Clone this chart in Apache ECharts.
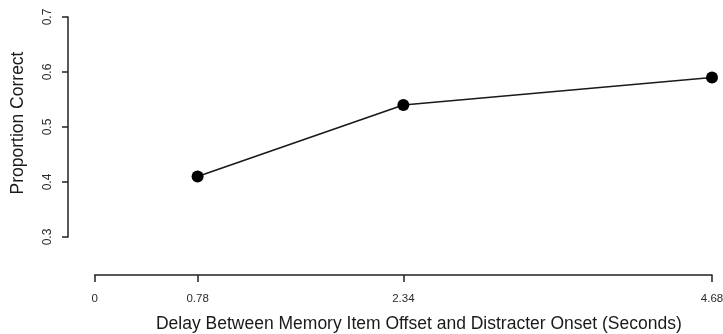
<!DOCTYPE html>
<html><head><meta charset="utf-8">
<script src="https://cdn.jsdelivr.net/npm/echarts@6/dist/echarts.min.js"></script>
<style>html,body{margin:0;padding:0;background:#fff}#c{width:723px;height:334px}</style>
</head><body><div id="c"></div>
<script>
var delays = [0.78, 2.34, 4.68];
var proportionCorrect = [0.41, 0.54, 0.59];
var xTickValues = [0, 0.78, 2.34, 4.68];
var yTickValues = [0.3, 0.4, 0.5, 0.6, 0.7];
var xTitle = 'Delay Between Memory Item Offset and Distracter Onset (Seconds)';
var yTitle = 'Proportion Correct';

var chart = echarts.init(document.getElementById('c'), null, {renderer: 'canvas'});
var font = 'Liberation Sans, Arial, sans-serif';
chart.setOption({
  animation: false,
  backgroundColor: '#fff',
  grid: {left: 94.7, right: 11, top: 17, bottom: 97, containLabel: false, outerBoundsMode: 'none'},
  xAxis: {
    type: 'value', min: 0, max: 4.68, offset: 38,
    name: xTitle, nameLocation: 'middle', nameGap: 40,
    nameTextStyle: {fontFamily: font, fontSize: 17.5, color: '#1a1a1a', padding: [0, 0, 0, 31]},
    axisLine: {show: true, onZero: false, lineStyle: {color: '#222', width: 1.5}},
    axisTick: {show: true, inside: false, length: 7, customValues: xTickValues, lineStyle: {color: '#222', width: 1.5}},
    axisLabel: {show: true, customValues: xTickValues, margin: 18, fontFamily: font, fontSize: 11.5, color: '#2a2a2a',
      formatter: function(v){ return String(v); }},
    splitLine: {show: false}
  },
  yAxis: {
    type: 'value', min: 0.3, max: 0.7, interval: 0.1, offset: 26.7,
    name: yTitle, nameLocation: 'middle', nameGap: 41, nameRotate: 90,
    nameTextStyle: {fontFamily: font, fontSize: 17.5, color: '#1a1a1a', padding: [0, 0, 0, 8]},
    axisLine: {show: true, onZero: false, lineStyle: {color: '#222', width: 1.5}},
    axisTick: {show: true, inside: false, length: 6, customValues: yTickValues, lineStyle: {color: '#222', width: 1.5}},
    axisLabel: {show: true, customValues: yTickValues, rotate: 90, margin: 14, fontFamily: font, fontSize: 12, color: '#2a2a2a',
      formatter: function(v){ return v.toFixed(1); }},
    splitLine: {show: false}
  },
  series: [{
    type: 'line',
    data: delays.map(function(d, i){ return [d, proportionCorrect[i]]; }),
    symbol: 'circle', symbolSize: 12,
    lineStyle: {color: '#1a1a1a', width: 1.7},
    itemStyle: {color: '#000'}
  }]
});
</script></body></html>
